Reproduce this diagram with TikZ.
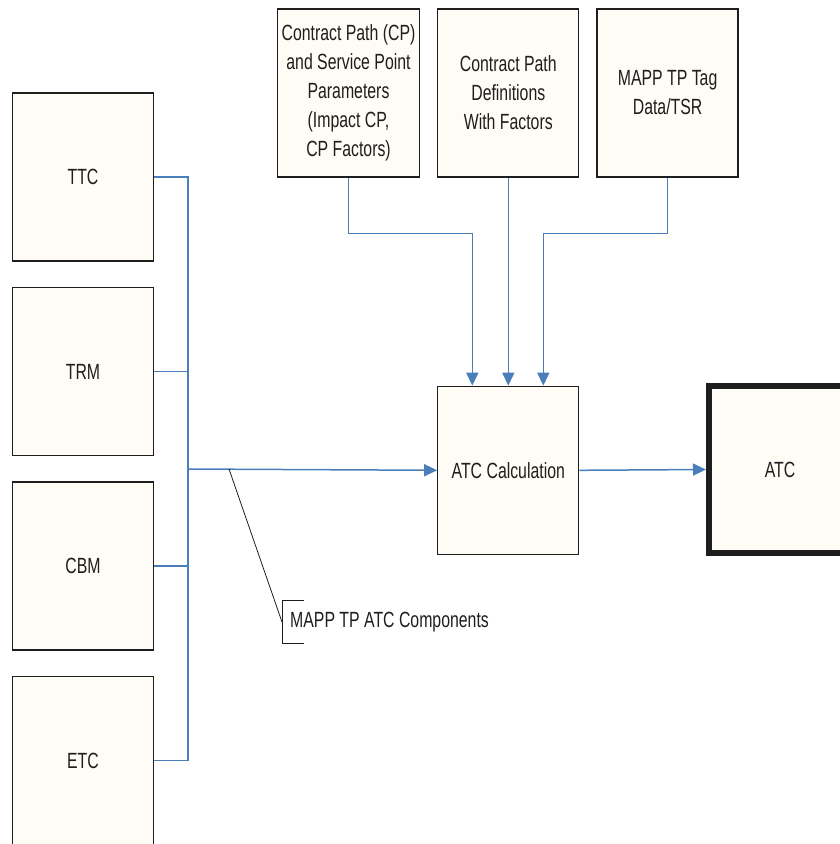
\documentclass[tikz,border=0pt]{standalone}
\usepackage{fontspec}
\setmainfont{Liberation Sans}[FakeStretch=0.72]
\usepackage{tikz}
\usetikzlibrary{positioning,arrows.meta}
\definecolor{boxfill}{HTML}{FFFCF6}
\definecolor{linkblue}{HTML}{4A7EBB}
\definecolor{inkgray}{HTML}{1E1E1E}

\begin{document}
\begin{tikzpicture}[
  x=1pt, y=-1pt,
  box/.style={rectangle, draw=inkgray, fill=boxfill, line width=1.3pt,
              minimum width=141pt, minimum height=168pt, align=center,
              text=inkgray, font=\fontsize{22pt}{29pt}\selectfont},
  link/.style={draw=linkblue, line width=1.5pt},
  flow/.style={link, -{Triangle[length=13pt,width=12pt]}},
  lbl/.style={text=inkgray, font=\fontsize{22pt}{29pt}\selectfont},
  node distance=25.2pt
]
  \useasboundingbox (0,0) rectangle (840,844);
  \clip (0,0) rectangle (840,844);

  % Components (left column)
  \node[box] (ttc) at (83,177) {TTC};
  \node[box, below=of ttc] (trm) {TRM};
  \node[box, below=of trm] (cbm) {CBM};
  \node[box, below=of cbm] (etc) {ETC};

  % Inputs (top row)
  \node[box, minimum width=142pt] (cpp) at (348.5,93)
    {Contract Path (CP)\\and Service Point\\Parameters\\(Impact CP,\\CP Factors)};
  \node[box, right=17pt of cpp] (cpd) {Contract Path\\Definitions\\With Factors};
  \node[box, right=17pt of cpd] (tag) {MAPP TP Tag\\Data/TSR};

  % Calculation and result
  \node[box, below=208pt of cpd] (calc) {ATC Calculation};
  \node[box, line width=6pt, minimum width=142pt, minimum height=167pt]
    (atc) at (780,469.5) {ATC};

  % Collector bus
  \coordinate (bus) at (188,469);
  \draw[link] (ttc.east) -- (ttc.east -| bus) -- (etc.east -| bus) -- (etc.east);
  \draw[link] (trm.east) -- (trm.east -| bus);
  \draw[link] (cbm.east) -- (cbm.east -| bus);
  \draw[flow] (bus) -- (calc.west);

  % Inputs down into the calculation
  \draw[flow] (cpp.south) -- ++(0,56) -| ([xshift=-36pt]calc.north);
  \draw[flow] (cpd.south) -- (calc.north);
  \draw[flow] (tag.south) -- ++(0,56) -| ([xshift=35pt]calc.north);
  \draw[flow] (calc.east) -- (atc.west);

  % Callout
  \node[lbl, anchor=west, inner xsep=8pt, minimum height=42pt] (note) at (282,622)
    {MAPP TP ATC Components};
  \coordinate (tap) at (229,469);
  \draw[inkgray, line width=0.8pt] (tap) -- (note.west);
  \draw[inkgray, line width=1pt] ([xshift=22pt]note.north west) -- (note.north west)
    -- (note.south west) -- ++(22,0);
\end{tikzpicture}
\end{document}
